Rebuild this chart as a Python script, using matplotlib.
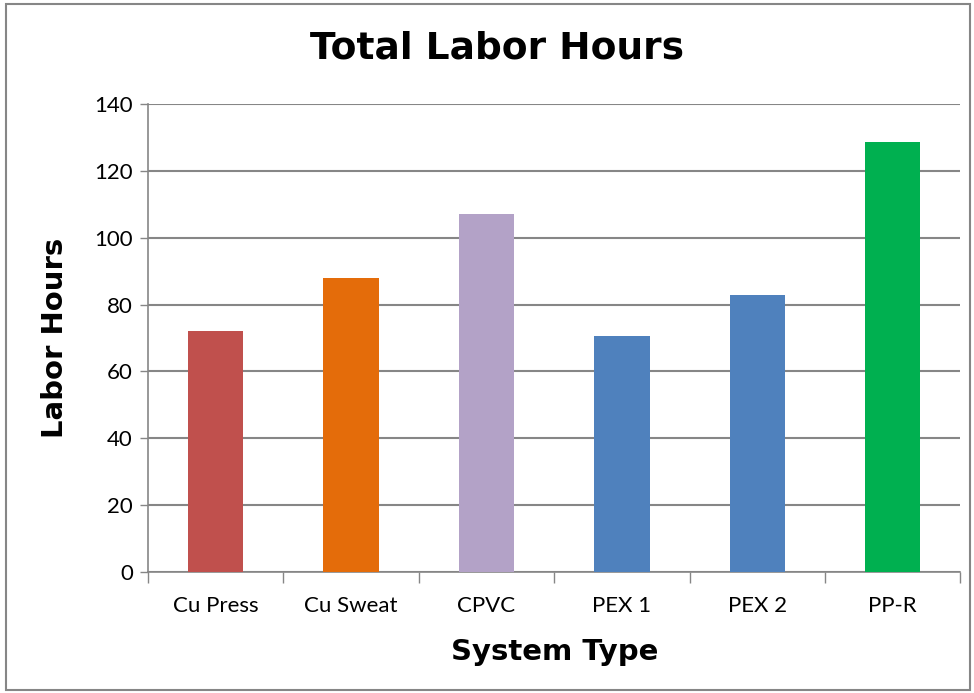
import matplotlib
matplotlib.use("Agg")
import matplotlib.pyplot as plt
import matplotlib.patches as patches
import numpy as np

# data
systems = ["Cu Press", "Cu Sweat", "CPVC", "PEX 1", "PEX 2", "PP-R"]
labor_hours = [72, 88, 107, 70.5, 83, 128.7]
bar_colors = ["#C0504D", "#E46C0A", "#B3A2C7", "#4F81BD", "#4F81BD", "#00B050"]
y_ticks = [0, 20, 40, 60, 80, 100, 120, 140]

grid_gray = "#868686"

fig = plt.figure(figsize=(9.74, 6.93), dpi=100)
ax = fig.add_axes([0.152, 0.1746, 0.834, 0.6754])

x = np.arange(len(systems))
ax.bar(x, labor_hours, width=0.41, color=bar_colors, zorder=3)

ax.set_xlim(-0.5, len(systems) - 0.5)
ax.set_ylim(0, 140)
ax.set_yticks(y_ticks)
ax.set_yticklabels([str(v) for v in y_ticks], fontsize=16, family="Lato")
ax.yaxis.grid(True, color=grid_gray, linewidth=1.5, zorder=0)

# category labels centred, tick marks between categories
ax.set_xticks(x)
ax.set_xticklabels(systems, fontsize=16, family="Lato")
ax.tick_params(axis="x", length=0, pad=17)
ax.set_xticks(np.arange(-0.5, len(systems)), minor=True)
ax.tick_params(axis="x", which="minor", length=8, color=grid_gray, width=1)
ax.tick_params(axis="y", length=6, color=grid_gray, width=1, pad=5)

for side in ["top", "right"]:
    ax.spines[side].set_visible(False)
for side in ["left", "bottom"]:
    ax.spines[side].set_color(grid_gray)
    ax.spines[side].set_linewidth(1.2)

ax.set_xlabel("System Type", fontsize=21, fontweight="bold", labelpad=16)
ax.set_ylabel("Labor Hours", fontsize=21, fontweight="bold", labelpad=18)
fig.text(0.51, 0.93, "Total Labor Hours", ha="center", va="center",
         fontsize=27, fontweight="bold")

# outer chart border
border = patches.Rectangle((0.006, 0.004), 0.99, 0.99, transform=fig.transFigure,
                           fill=False, edgecolor=grid_gray, linewidth=1.5)
fig.patches.append(border)

fig.savefig("out.png", dpi=100)
